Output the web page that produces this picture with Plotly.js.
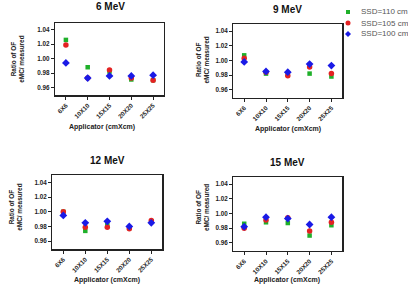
<!DOCTYPE html>
<html>
<head>
<meta charset="utf-8">
<script src="https://cdn.plot.ly/plotly-3.0.1.min.js"></script>
<style>
  html, body { margin: 0; padding: 0; background: #fff; }
  #chart { width: 408px; height: 284px; }
</style>
</head>
<body>
<div id="chart"></div>
<script>
// Applicator field sizes
const applicators = ['6X6', '10X10', '15X15', '20X20', '25X25'];

// Ratio of output factor (eMC / measured) per energy and SSD
const mev6_ssd110 = [1.026, 0.988, 0.982, 0.971, 0.970];
const mev6_ssd105 = [1.019, 0.973, 0.984, 0.973, 0.970];
const mev6_ssd100 = [0.994, 0.973, 0.976, 0.976, 0.977];

const mev9_ssd110 = [1.007, 0.982, 0.981, 0.982, 0.978];
const mev9_ssd105 = [1.003, 0.984, 0.979, 0.991, 0.982];
const mev9_ssd100 = [0.998, 0.985, 0.984, 0.995, 0.993];

const mev12_ssd110 = [1.000, 0.974, 0.982, 0.978, 0.987];
const mev12_ssd105 = [1.000, 0.979, 0.979, 0.977, 0.988];
const mev12_ssd100 = [0.995, 0.985, 0.987, 0.980, 0.985];

const mev15_ssd110 = [0.986, 0.988, 0.987, 0.970, 0.984];
const mev15_ssd105 = [0.980, 0.991, 0.994, 0.976, 0.988];
const mev15_ssd100 = [0.982, 0.995, 0.993, 0.985, 0.995];

const panelTitles = ['6 MeV', '9 MeV', '12 MeV', '15 MeV'];
const seriesNames = ['SSD=110 cm', 'SSD=105 cm', 'SSD=100 cm'];
const yTicks = [0.96, 0.98, 1.00, 1.02, 1.04];

const colors = ['#1fb02a', '#e32222', '#1a1ae6'];
const symbols = ['square', 'circle', 'diamond'];
const sizes = [4.5, 5.5, 6];

const panels = [
  [mev6_ssd110, mev6_ssd105, mev6_ssd100],
  [mev9_ssd110, mev9_ssd105, mev9_ssd100],
  [mev12_ssd110, mev12_ssd105, mev12_ssd100],
  [mev15_ssd110, mev15_ssd105, mev15_ssd100]
];

const W = 408, H = 284;
const px = x => x / W;
const py = y => 1 - y / H;

// plot frames in pixels: [left, right, top, bottom]
const frames = [
  [55, 164, 23, 95.3],
  [233.3, 342.3, 24.3, 97.7],
  [52.3, 162.3, 175.3, 249.3],
  [233.3, 342.3, 177, 251]
];

const FONT = 'Liberation Sans, Arial, sans-serif';
const traces = [];
const layout = {
  width: W, height: H,
  margin: {l: 0, r: 0, t: 0, b: 0},
  paper_bgcolor: '#fff',
  plot_bgcolor: '#fff',
  showlegend: false,
  font: {family: FONT, color: '#222'},
  annotations: [],
  shapes: []
};

panels.forEach((series, p) => {
  const n = p + 1;
  const xa = 'x' + (n === 1 ? '' : n);
  const ya = 'y' + (n === 1 ? '' : n);
  series.forEach((vals, s) => {
    traces.push({
      type: 'scatter', mode: 'markers',
      x: applicators, y: vals,
      xaxis: xa, yaxis: ya,
      name: seriesNames[s],
      marker: {color: colors[s], symbol: symbols[s], size: sizes[s], line: {width: 0}},
      cliponaxis: false
    });
  });
  const f = frames[p];
  const axBase = {
    showline: true, mirror: true, linecolor: '#222', linewidth: 1.2,
    ticks: 'outside', ticklen: 3, tickwidth: 1, tickcolor: '#222',
    showgrid: false, zeroline: false,
    tickfont: {family: FONT, size: 6.3, color: '#222', weight: 'bold'}
  };
  layout['xaxis' + (n === 1 ? '' : n)] = Object.assign({}, axBase, {
    domain: [px(f[0]), px(f[1])],
    anchor: ya,
    type: 'category',
    categoryorder: 'array', categoryarray: applicators,
    range: [-0.5, 4.5],
    tickangle: -45
  });
  layout['yaxis' + (n === 1 ? '' : n)] = Object.assign({}, axBase, {
    domain: [py(f[3]), py(f[2])],
    anchor: xa,
    range: [0.949, 1.0495],
    tickvals: yTicks,
    tickformat: '.2f'
  });
});

// panel titles
const titlePos = [[110, 6.5], [287.5, 9.5], [107.5, 160.5], [287, 162.5]];
panelTitles.forEach((t, i) => {
  layout.annotations.push({
    xref: 'paper', yref: 'paper', x: px(titlePos[i][0]), y: py(titlePos[i][1]),
    xanchor: 'center', yanchor: 'middle', showarrow: false,
    text: t, font: {family: FONT, size: 10, color: '#111', weight: 'bold'}
  });
});

// x-axis titles
const xTitlePos = [[102, 127], [287.5, 129], [107, 279.5], [287, 279.5]];
xTitlePos.forEach(pos => {
  layout.annotations.push({
    xref: 'paper', yref: 'paper', x: px(pos[0]), y: py(pos[1]),
    xanchor: 'center', yanchor: 'middle', showarrow: false,
    text: 'Applicator (cmXcm)', font: {family: FONT, size: 7, color: '#222', weight: 'bold'}
  });
});

// y-axis titles (two lines, rotated)
const yTitlePos = [[16.7, 59], [202.5, 60], [14.7, 207], [202, 208]];
yTitlePos.forEach(pos => {
  layout.annotations.push({
    xref: 'paper', yref: 'paper', x: px(pos[0]), y: py(pos[1]),
    xanchor: 'center', yanchor: 'middle', showarrow: false, textangle: -90,
    text: 'Ratio of OF<br>eMC/ measured',
    font: {family: FONT, size: 6.4, color: '#222', weight: 'bold'}
  });
});

// legend
const legX = 348, legTextX = 359, legY = [12, 23, 34];
seriesNames.forEach((name, i) => {
  layout.annotations.push({
    xref: 'paper', yref: 'paper', x: px(legTextX), y: py(legY[i]),
    xanchor: 'left', yanchor: 'middle', showarrow: false,
    text: name, font: {family: FONT, size: 8, color: '#555'}
  });
});
const cx = px(legX);
const hx = r => r / W, hy = r => r / H;
// square
layout.shapes.push({type: 'rect', xref: 'paper', yref: 'paper',
  x0: cx - hx(2), x1: cx + hx(2), y0: py(legY[0]) - hy(2), y1: py(legY[0]) + hy(2),
  fillcolor: colors[0], line: {width: 0}});
// circle
layout.shapes.push({type: 'circle', xref: 'paper', yref: 'paper',
  x0: cx - hx(2.5), x1: cx + hx(2.5), y0: py(legY[1]) - hy(2.5), y1: py(legY[1]) + hy(2.5),
  fillcolor: colors[1], line: {width: 0}});
// diamond
const dy = py(legY[2]);
layout.shapes.push({type: 'path', xref: 'paper', yref: 'paper',
  path: `M ${cx - hx(3)} ${dy} L ${cx} ${dy + hy(3)} L ${cx + hx(3)} ${dy} L ${cx} ${dy - hy(3)} Z`,
  fillcolor: colors[2], line: {width: 0}});

Plotly.newPlot('chart', traces, layout, {staticPlot: true, displayModeBar: false});
</script>
</body>
</html>
